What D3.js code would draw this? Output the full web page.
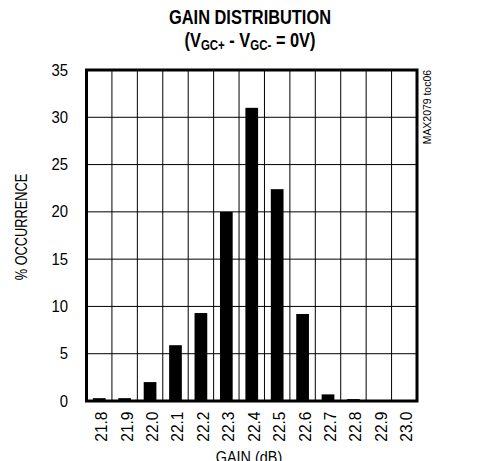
<!DOCTYPE html>
<html><head><meta charset="utf-8">
<script src="https://cdn.jsdelivr.net/npm/d3@7"></script>
<style>
body{margin:0;background:#fff;}
svg{display:block;}
text{font-family:"Liberation Sans",Arial,sans-serif;fill:#000;}
</style></head>
<body>
<svg id="chart" width="498" height="461"></svg>
<script>
const categories = ["21.8","21.9","22.0","22.1","22.2","22.3","22.4","22.5","22.6","22.7","22.8","22.9","23.0"];
const occurrence = [0.3,0.3,2.0,5.9,9.3,20.0,31.0,22.4,9.2,0.7,0.2,0,0];
const yTicks = [0,5,10,15,20,25,30,35];
const titleLine1 = "GAIN DISTRIBUTION";
const xTitle = "GAIN (dB)";
const yTitle = "% OCCURRENCE";
const sideNote = "MAX2079 toc06";

const svg = d3.select("#chart");
const L = 86.5, R = 417, T = 70, B = 401;

const x = d3.scaleBand().domain(categories).range([L, R]).paddingInner(0.5).paddingOuter(0.25);
const y = d3.scaleLinear().domain([0, 35]).range([B, T]);
const step = x.step();

// grid
const g = svg.append("g");
g.selectAll("line.v").data(d3.range(1, categories.length)).join("line")
  .attr("x1", k => L + k * step).attr("x2", k => L + k * step)
  .attr("y1", T).attr("y2", B).attr("stroke", "#000").attr("stroke-width", 1);
g.selectAll("line.h").data(yTicks.slice(1, -1)).join("line")
  .attr("x1", L).attr("x2", R).attr("y1", d => y(d)).attr("y2", d => y(d))
  .attr("stroke", "#000").attr("stroke-width", 1);

// bars
svg.append("g").selectAll("rect").data(categories).join("rect")
  .attr("x", d => x(d)).attr("width", x.bandwidth())
  .attr("y", (d, i) => y(occurrence[i]))
  .attr("height", (d, i) => y(0) - y(occurrence[i]))
  .attr("fill", "#000");

// frame
svg.append("rect").attr("x", L).attr("y", T).attr("width", R - L).attr("height", B - T)
  .attr("fill", "none").attr("stroke", "#000").attr("stroke-width", 3);

// y axis labels
const yAxis = d3.axisLeft(y).tickValues(yTicks).tickSize(0).tickPadding(0);
const ya = svg.append("g").attr("transform", `translate(68,0)`).call(yAxis);
ya.select(".domain").remove();
ya.selectAll("text").attr("font-size", 16).attr("fill", "#000")
  .style("font-family", '"Liberation Sans",Arial,sans-serif')
  .attr("transform", "scale(0.93,1)").attr("x", 0);
ya.selectAll(".tick").each(function(d){
  d3.select(this).select("text").attr("transform", "scale(0.93,1)");
});

// x axis labels
const xAxis = d3.axisBottom(x).tickSize(0).tickPadding(0);
const xa = svg.append("g").attr("transform", `translate(0,411.5)`).call(xAxis);
xa.select(".domain").remove();
xa.selectAll("text").attr("font-size", 16).attr("fill", "#000")
  .style("font-family", '"Liberation Sans",Arial,sans-serif')
  .attr("text-anchor", "end").attr("dy", null).attr("y", 0)
  .attr("transform", "translate(8,0) rotate(-90) scale(0.97,1)");

// titles
svg.append("text").attr("transform", "translate(250,24) scale(0.82,1)").attr("text-anchor", "middle")
  .attr("font-size", 20).attr("font-weight", "bold").text(titleLine1);
const t2 = svg.append("text").attr("transform", "translate(250,46.5) scale(0.82,1)").attr("text-anchor", "middle")
  .attr("font-size", 20).attr("font-weight", "bold");
t2.append("tspan").text("(V");
t2.append("tspan").attr("font-size", 14).attr("dy", 3.5).text("GC+");
t2.append("tspan").attr("dy", -3.5).text(" - V");
t2.append("tspan").attr("font-size", 14).attr("dy", 3.5).text("GC-");
t2.append("tspan").attr("dy", -3.5).text(" = 0V)");

svg.append("text").attr("transform", "translate(27,227) rotate(-90) scale(0.8,1)").attr("text-anchor", "middle")
  .attr("font-size", 16).text(yTitle);
svg.append("text").attr("transform", "translate(249,463) scale(0.9,1)").attr("text-anchor", "middle")
  .attr("font-size", 16).text(xTitle);
svg.append("text").attr("transform", "translate(431,70) rotate(-90) scale(0.95,1)").attr("text-anchor", "end")
  .attr("font-size", 11).text(sideNote);
</script>
</body></html>
